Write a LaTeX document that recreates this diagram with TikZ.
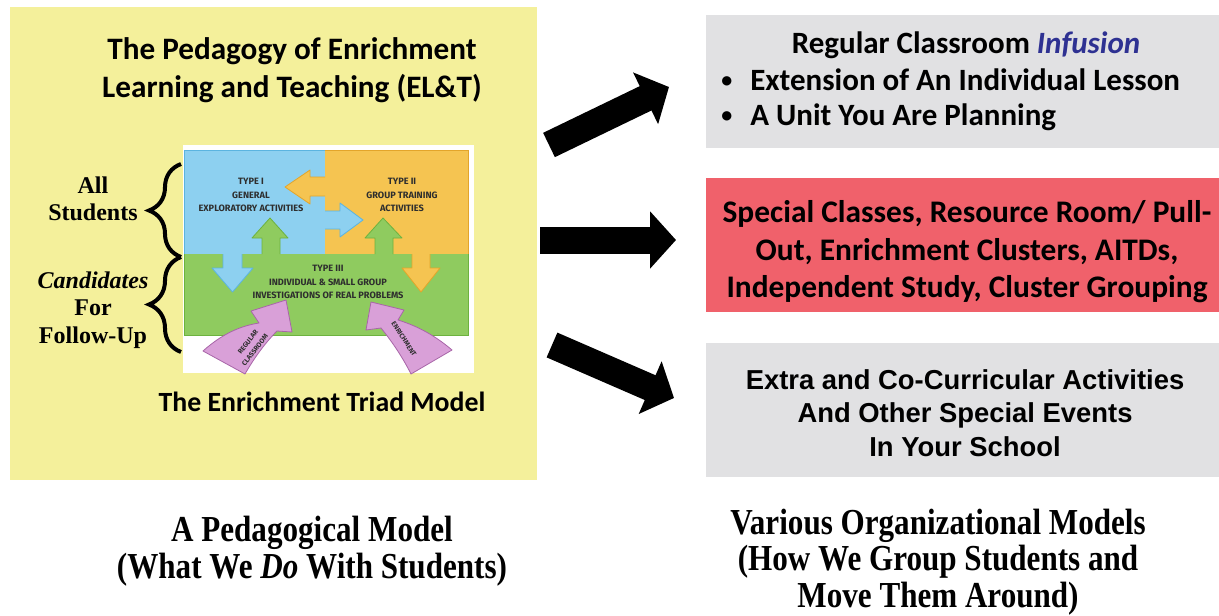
\documentclass[tikz,border=0pt]{standalone}
\usepackage{fontspec}
\usetikzlibrary{arrows.meta,decorations.pathreplacing}
\newfontfamily\calfont{Carlito}
\newfontfamily\tnrfont{Liberation Serif}
\newfontfamily\tnrcond{Liberation Serif}[FakeStretch=0.85]
\newfontfamily\arifont{Liberation Sans}
\newfontfamily\comfont{Fira Sans}
\definecolor{ylw}{HTML}{F4F09B}
\definecolor{gbox}{HTML}{E1E1E3}
\definecolor{rbox}{HTML}{F0616B}
\definecolor{infblue}{HTML}{2E3192}
\definecolor{tblue}{HTML}{8DD0F0}
\definecolor{tblueD}{HTML}{5BB4E0}
\definecolor{torange}{HTML}{F5C451}
\definecolor{torangeD}{HTML}{E3A52A}
\definecolor{tgreen}{HTML}{8FCB5F}
\definecolor{tgreenD}{HTML}{6DB23F}
\definecolor{tpink}{HTML}{D9A0D8}
\definecolor{tpinkD}{HTML}{A865A8}
\definecolor{ttext}{HTML}{2E2E2E}
\newcommand{\smallbul}{\raisebox{0.2ex}{\fontsize{11pt}{11pt}\selectfont •}}
\begin{document}
\begin{tikzpicture}[x=0.5pt,y=-0.5pt,
  panel/.style={inner sep=0pt, outer sep=0pt, draw=none},
  fatarrow/.style={line width=13.5pt, draw=black, -{Triangle[width=28pt,length=13pt]}},
  ttl/.style={font=\calfont\bfseries\fontsize{15.6pt}{19pt}\selectfont, align=center, inner sep=0pt},
  boxtxt/.style={font=\calfont\bfseries\fontsize{15.5pt}{18pt}\selectfont, inner sep=0pt},
  redtxt/.style={font=\calfont\bfseries\fontsize{15.7pt}{18.75pt}\selectfont, align=center, inner sep=0pt},
  aritxt/.style={font=\arifont\bfseries\fontsize{13.7pt}{16.75pt}\selectfont, align=center, inner sep=0pt},
  sidetxt/.style={font=\tnrfont\bfseries\fontsize{12pt}{13.75pt}\selectfont, align=center, inner sep=0pt},
  captxt/.style={font=\tnrcond\bfseries\fontsize{18.3pt}{18.2pt}\selectfont, align=center, inner sep=0pt},
  comtxt/.style={font=\comfont\bfseries\fontsize{4.6pt}{6.75pt}\selectfont, text=ttext, align=center, inner sep=0pt},
  pinktxt/.style={font=\comfont\bfseries\fontsize{3.4pt}{4.1pt}\selectfont, text=ttext, inner sep=0pt},
  bracestyle/.style={decorate, decoration={brace, amplitude=16pt}, line width=2pt}
]
\useasboundingbox (0,0) rectangle (1219,615);
\fill[white] (0,0) rectangle (1219,615);

% left yellow panel
\node[panel, fill=ylw, minimum width=263.5pt, minimum height=236.5pt] (ped) at (273.5,243.5) {};
\node[ttl] (title) at (292,70) {The Pedagogy of Enrichment\\Learning and Teaching (EL\&T)};

% triad picture
\node[panel, fill=white, minimum width=145.5pt, minimum height=114pt] (pic) at (328.5,259) {};
\fill[tblue] (184,150) rectangle (325,254);
\fill[torange] (325,150) rectangle (468,254);
\fill[tgreen] (184,254) rectangle (468,335);
\draw[tblueD, line width=0.4pt] (184,254) -- (184,150) -- (325,150);
\draw[torangeD, line width=0.4pt] (325,150) -- (468,150) -- (468,254);
\draw[tgreenD, line width=0.4pt] (184,254) -- (184,335) -- (468,335) -- (468,254);

% orange arrow pointing left
\fill[torange] (330,177) -- (310,177) -- (310,170) -- (285,187) -- (310,204) -- (310,196) -- (330,196) -- cycle;
\draw[torangeD, line width=0.4pt, line join=round] (325,177) -- (310,177) -- (310,170) -- (285,187) -- (310,204) -- (310,196) -- (325,196);
% blue arrow pointing right
\fill[tblue] (320,211) -- (340,211) -- (340,203) -- (363,220) -- (340,237) -- (340,229) -- (320,229) -- cycle;
\draw[tblueD, line width=0.4pt, line join=round] (325,211) -- (340,211) -- (340,203) -- (363,220) -- (340,237) -- (340,229) -- (325,229);
% green arrows pointing up
\fill[tgreen] (262,258) -- (262,238) -- (252,238) -- (270,218) -- (288,238) -- (280,238) -- (280,258) -- cycle;
\draw[tgreenD, line width=0.4pt, line join=round] (262,254) -- (262,238) -- (252,238) -- (270,218) -- (288,238) -- (280,238) -- (280,254);
\fill[tgreen] (375,258) -- (375,238) -- (365,238) -- (383,218) -- (402,238) -- (393,238) -- (393,258) -- cycle;
\draw[tgreenD, line width=0.4pt, line join=round] (375,254) -- (375,238) -- (365,238) -- (383,218) -- (402,238) -- (393,238) -- (393,254);
% blue and orange arrows pointing down
\fill[tblue] (223,250) -- (223,268) -- (212,268) -- (232.5,292) -- (253,268) -- (242,268) -- (242,250) -- cycle;
\draw[tblueD, line width=0.4pt, line join=round] (223,254) -- (223,268) -- (212,268) -- (232.5,292) -- (253,268) -- (242,268) -- (242,254);
\fill[torange] (412,250) -- (412,268) -- (402,268) -- (421,292) -- (440,268) -- (430,268) -- (430,250) -- cycle;
\draw[torangeD, line width=0.4pt, line join=round] (412,254) -- (412,268) -- (402,268) -- (421,292) -- (440,268) -- (430,268) -- (430,254);

% pink curved arrows
\filldraw[fill=tpink, draw=tpinkD, line width=0.4pt, line join=round]
  (203,351) .. controls (222,334) and (240,326) .. (259,323) -- (251,311) -- (286,300) -- (292,332) -- (277,331)
  .. controls (264,344) and (253,360) .. (245,374) -- cycle;
\filldraw[fill=tpink, draw=tpinkD, line width=0.4pt, line join=round]
  (452,350) .. controls (432,333) and (414,325) .. (398,320) -- (404,310) -- (371,302) -- (366,330) -- (381,328)
  .. controls (394,344) and (404,360) .. (411,374) -- cycle;

% triad texts
\node[comtxt] (t1) at (251,195) {TYPE I\\GENERAL\\EXPLORATORY ACTIVITIES};
\node[comtxt] (t2) at (402,195) {TYPE II\\GROUP TRAINING\\ACTIVITIES};
\node[comtxt] (t3) at (328,282) {TYPE III\\INDIVIDUAL \& SMALL GROUP\\INVESTIGATIONS OF REAL PROBLEMS};
\node[pinktxt, rotate=52] (p1a) at (248,342) {REGULAR};
\node[pinktxt, rotate=52] (p1b) at (255,350) {CLASSROOM};
\node[pinktxt, rotate=-57] (p2) at (404,339) {ENRICHMENT};

\node[font=\calfont\bfseries\fontsize{13.9pt}{15pt}\selectfont, inner sep=0pt] (triad) at (322,402) {The Enrichment Triad Model};

% side labels and braces
\node[sidetxt] (all) at (93,199) {All\\Students};
\node[sidetxt] (cand) at (93,310) {\textit{Candidates}\\For\\Follow-Up};
\draw[bracestyle] (181,257) -- (181,164);
\draw[bracestyle] (181,352) -- (181,257);

% right boxes
\node[panel, fill=gbox, minimum width=256.5pt, minimum height=66.5pt] (b1) at (962.5,81.5) {};
\node[panel, fill=rbox, minimum width=256.5pt, minimum height=67pt] (b2) at (962.5,245) {};
\node[panel, fill=gbox, minimum width=256.5pt, minimum height=67pt] (b3) at (962.5,410) {};

\node[boxtxt] (b1t) at (966,45) {Regular Classroom \textcolor{infblue}{\itshape Infusion}};
\node[boxtxt, anchor=west] (b1a) at (721,80) {\smallbul\hspace{9pt}Extension of An Individual Lesson};
\node[boxtxt, anchor=west] (b1b) at (721,117) {\smallbul\hspace{9pt}A Unit You Are Planning};
\node[redtxt] (b2t) at (967,252) {Special Classes, Resource Room/ Pull-\\Out, Enrichment Clusters, AITDs,\\Independent Study, Cluster Grouping};
\node[aritxt] (b3t) at (965,413) {Extra and Co-Curricular Activities\\And Other Special Events\\In Your School};

% black arrows
\coordinate (a1s) at (549,145);
\coordinate (a1e) at (669,87);
\coordinate (a2s) at (540,240);
\coordinate (a2e) at (676,240);
\coordinate (a3s) at (552,345);
\coordinate (a3e) at (674,398);
\draw[fatarrow] (a1s) -- (a1e);
\draw[fatarrow] (a2s) -- (a2e);
\draw[fatarrow] (a3s) -- (a3e);

% captions
\node[captxt] (pm) at (312,551) {A Pedagogical Model\\(What We \textit{Do} With Students)};
\node[captxt] (om) at (938,562) {Various Organizational Models\\(How We Group Students and\\Move Them Around)};
\end{tikzpicture}
\end{document}
